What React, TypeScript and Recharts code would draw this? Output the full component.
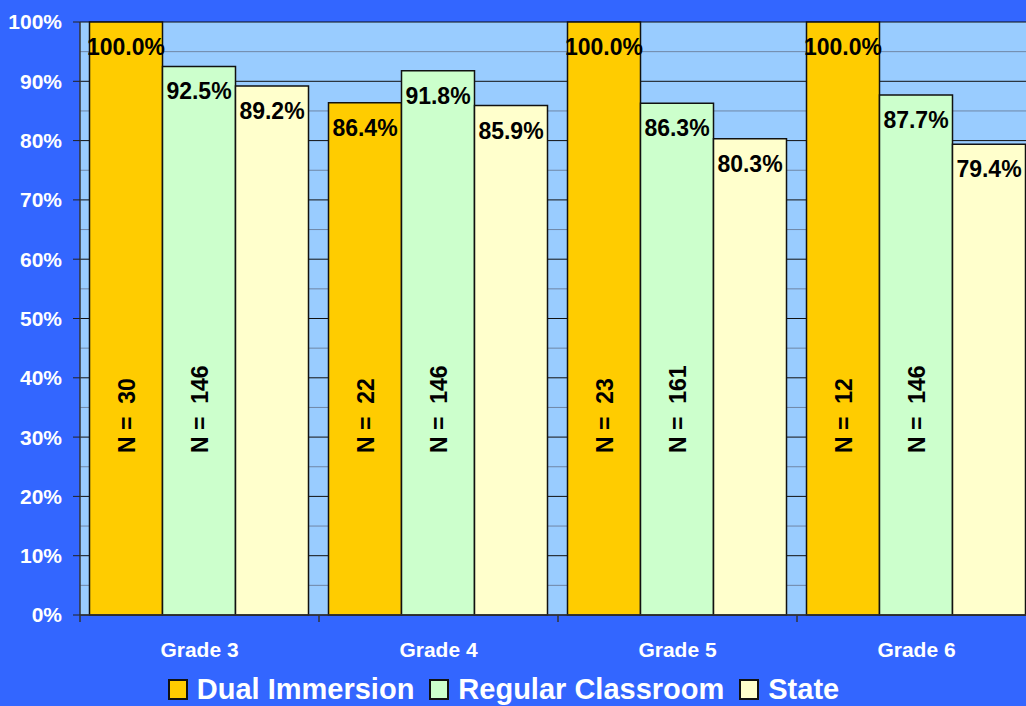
import { Bar, BarChart, CartesianGrid, LabelList, Legend, XAxis, YAxis } from "recharts";

const grades = ["Grade 3", "Grade 4", "Grade 5", "Grade 6"];
const dualImmersion = [100, 86.4, 100, 100];
const regularClassroom = [92.5, 91.8, 86.3, 87.7];
const statewide = [89.2, 85.9, 80.3, 79.4];
const dualCounts = [30, 22, 23, 12];
const regularCounts = [146, 146, 161, 146];
const yTicks = [0, 10, 20, 30, 40, 50, 60, 70, 80, 90, 100];
const minorTicks = [5, 15, 25, 35, 45, 55, 65, 75, 85, 95];
const yMax = 100;

const FONT = "'Liberation Sans', Arial, Helvetica, sans-serif";

const data = grades.map((grade, i) => ({
  grade,
  dual: dualImmersion[i],
  regular: regularClassroom[i],
  state: statewide[i],
  dualN: dualCounts[i],
  regularN: regularCounts[i],
}));

// minor 5% lines, placed inside the plot box
function minorLines({ yAxis, offset }: any) {
  if (yAxis && typeof yAxis.scale === "function") return minorTicks.map((v) => yAxis.scale(v));
  return minorTicks.map((v) => offset.top + offset.height * (1 - v / yMax));
}

// percent label near the top of each bar
function ValueLabel(props: any) {
  const x = Number(props.x);
  const y = Number(props.y);
  const w = Number(props.width);
  return (
    <text
      x={x + w / 2}
      y={y + 33}
      textAnchor="middle"
      fontSize={23}
      fontWeight="bold"
      fontFamily={FONT}
      fill="#000"
    >
      {Number(props.value).toFixed(1)}%
    </text>
  );
}

// rotated "N = .." label, anchored from the bar bottom
function CountLabel(props: any) {
  const cx = Number(props.x) + Number(props.width) / 2 + 1;
  const by = Number(props.y) + Number(props.height) - 162;
  return (
    <text
      x={cx}
      y={by}
      transform={`rotate(-90 ${cx} ${by})`}
      textAnchor="start"
      dominantBaseline="central"
      fontSize={23}
      fontWeight="bold"
      fontFamily={FONT}
      fill="#000"
      style={{ whiteSpace: "pre" }}
    >
      {`N =  ${props.value}`}
    </text>
  );
}

function GradeTick(props: any) {
  const { x, y, payload } = props;
  const half = payload?.offset ?? 119;
  return (
    <g>
      <line x1={x - half} x2={x - half} y1={y} y2={y + 7} stroke="#333" strokeWidth={1.5} />
      <text
        x={x}
        y={y + 42}
        textAnchor="middle"
        fill="#fff"
        fontSize={21}
        fontWeight="bold"
        fontFamily={FONT}
      >
        {payload.value}
      </text>
    </g>
  );
}

function LegendContent(props: any) {
  const items = props.payload ?? [];
  return (
    <div style={{ display: "flex", justifyContent: "center", alignItems: "center", gap: 15 }}>
      {items.map((item: any) => (
        <div key={item.value} style={{ display: "flex", alignItems: "center" }}>
          <span
            style={{
              display: "inline-block",
              width: 20,
              height: 21,
              boxSizing: "border-box",
              border: "2px solid #111",
              background: item.color,
              marginRight: 9,
            }}
          />
          <span
            style={{
              color: "#fff",
              fontSize: 29,
              fontWeight: "bold",
              lineHeight: "33px",
              fontFamily: FONT,
            }}
          >
            {item.value}
          </span>
        </div>
      ))}
    </div>
  );
}

export default function App() {
  return (
    <div
      style={{
        position: "fixed",
        left: 0,
        top: 0,
        width: 1026,
        height: 706,
        overflow: "hidden",
        background: "#3366FF",
        fontFamily: FONT,
      }}
    >
      <BarChart
        width={1044}
        height={706}
        data={data}
        margin={{ top: 22, right: 8, left: 0, bottom: 0 }}
        barCategoryGap={9.5}
        barGap={0}
      >
        <CartesianGrid
          vertical={false}
          fill="#99CCFF"
          fillOpacity={1}
          stroke="#6f86a6"
          horizontalCoordinatesGenerator={minorLines}
        />
        <CartesianGrid vertical={false} stroke="#111" />
        <XAxis
          dataKey="grade"
          height={91}
          interval={0}
          tickSize={0}
          tickMargin={0}
          tickLine={false}
          axisLine={{ stroke: "#333", strokeWidth: 1.5 }}
          tick={<GradeTick />}
        />
        <YAxis
          domain={[0, yMax]}
          ticks={yTicks}
          width={80}
          tickSize={7}
          tickMargin={11}
          tickFormatter={(v: number) => `${v}%`}
          tick={{ fill: "#fff", fontSize: 21, fontWeight: "bold", fontFamily: FONT }}
          axisLine={{ stroke: "#333", strokeWidth: 1.5 }}
          tickLine={{ stroke: "#222" }}
        />
        <Legend
          verticalAlign="middle"
          align="center"
          layout="horizontal"
          wrapperStyle={{ top: 673, left: 0, width: 1007 }}
          content={LegendContent}
        />
        <Bar
          dataKey="dual"
          name="Dual Immersion"
          fill="#FFCC00"
          stroke="#111"
          strokeWidth={1.5}
          isAnimationActive={false}
        >
          <LabelList dataKey="dual" content={ValueLabel} />
          <LabelList dataKey="dualN" content={CountLabel} />
        </Bar>
        <Bar
          dataKey="regular"
          name="Regular Classroom"
          fill="#CCFFCC"
          stroke="#111"
          strokeWidth={1.5}
          isAnimationActive={false}
        >
          <LabelList dataKey="regular" content={ValueLabel} />
          <LabelList dataKey="regularN" content={CountLabel} />
        </Bar>
        <Bar
          dataKey="state"
          name="State"
          fill="#FFFFCC"
          stroke="#111"
          strokeWidth={1.5}
          isAnimationActive={false}
        >
          <LabelList dataKey="state" content={ValueLabel} />
        </Bar>
      </BarChart>
    </div>
  );
}
